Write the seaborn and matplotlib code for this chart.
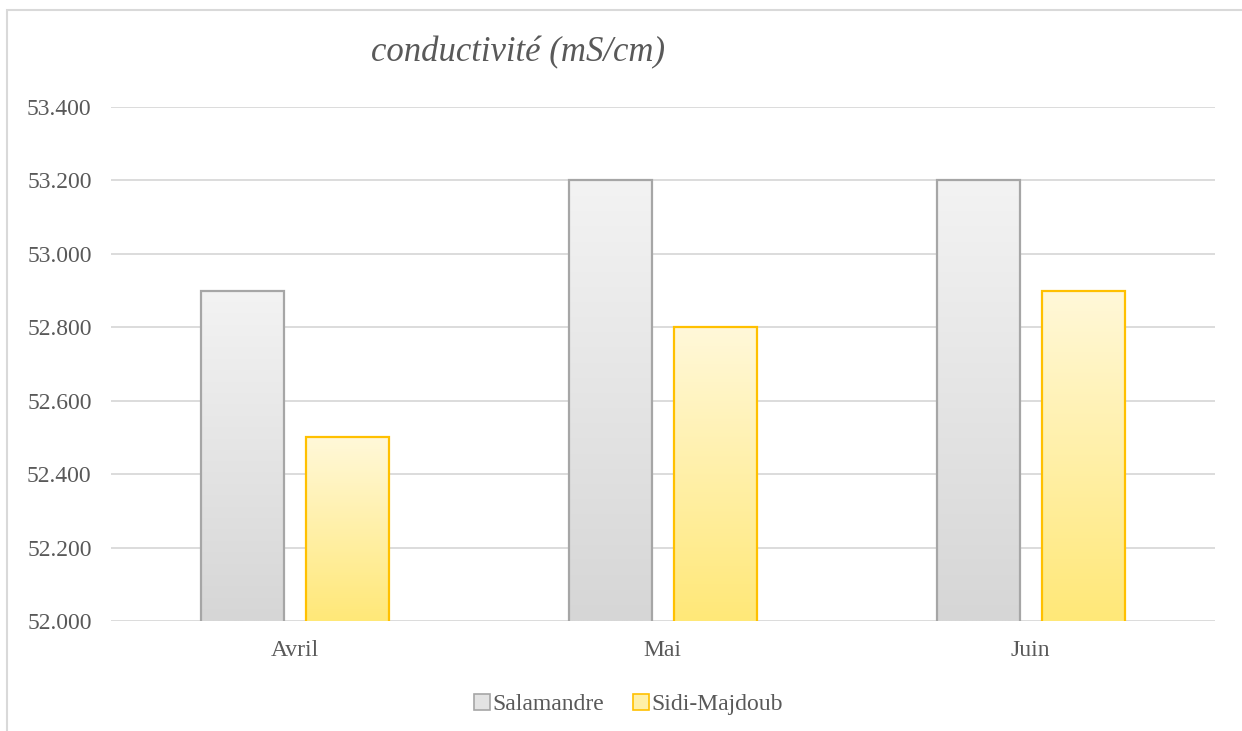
import numpy as np
import pandas as pd
import matplotlib.pyplot as plt
import seaborn as sns
from matplotlib.patches import Patch, Rectangle
from matplotlib.colors import LinearSegmentedColormap

months = ['Avril', 'Mai', 'Juin']
salamandre = [52.9, 53.2, 53.2]
sidi_majdoub = [52.5, 52.8, 52.9]
series = ['Salamandre', 'Sidi-Majdoub']

df = pd.DataFrame({
    'mois': months * 2,
    'station': [series[0]] * 3 + [series[1]] * 3,
    'valeur': salamandre + sidi_majdoub,
})

sns.set_style('white')
plt.rcParams['font.family'] = ['Liberation Serif', 'DejaVu Serif']
txt = '#595959'
ymin, ymax = 52.0, 53.4

fig = plt.figure(figsize=(12.42, 7.31), dpi=100)
ax = fig.add_axes([0.0894, 0.1505, 0.8886, 0.7031])

sns.barplot(data=df, x='mois', y='valeur', hue='station', order=months,
            hue_order=series, width=0.572, gap=0.21, ax=ax, legend=False,
            palette=['#e3e3e3', '#fff0a8'])

# gradient fills, top light -> bottom darker
grads = {
    0: (['#f3f3f3', '#d6d6d6'], '#a6a6a6'),
    1: (['#fff8d9', '#ffe878'], '#ffc000'),
}
for i, cont in enumerate(ax.containers):
    cols, edge = grads[i]
    cmap = LinearSegmentedColormap.from_list('g%d' % i, cols)
    for bar in cont:
        x0, w = bar.get_x(), bar.get_width()
        top = bar.get_y() + bar.get_height()
        bar.set_facecolor('none')
        bar.set_edgecolor(edge)
        bar.set_linewidth(1.6)
        bar.set_zorder(3)
        img = ax.imshow(np.linspace(0, 1, 256).reshape(-1, 1), cmap=cmap,
                        extent=[x0, x0 + w, ymin, top], origin='upper',
                        aspect='auto', zorder=2)
        img.set_clip_path(bar)
        img.set_clip_box(ax.bbox)

ax.set_ylim(ymin, ymax)
ax.set_xlim(-0.5, 2.5)
ticks = np.arange(ymin, ymax + 0.01, 0.2)
ax.set_yticks(ticks)
ax.set_yticklabels(['{:.3f}'.format(v) for v in ticks])
ax.yaxis.grid(True, color='#d9d9d9', linewidth=1.3)
ax.set_axisbelow(True)
for s in ax.spines.values():
    s.set_visible(False)
ax.tick_params(axis='both', length=0, labelsize=17, colors=txt)
ax.tick_params(axis='y', pad=14)
ax.tick_params(axis='x', pad=14)
ax.set_xlabel('')
ax.set_ylabel('')

fig.text(0.417, 0.928, 'conductivité (mS/cm)', fontsize=25, style='italic',
         color=txt, ha='center', va='center')

handles = [Patch(facecolor='#e3e3e3', edgecolor='#a6a6a6', linewidth=1.2),
           Patch(facecolor='#fff0a8', edgecolor='#ffc000', linewidth=1.2)]
fig.legend(handles, series, loc='center', bbox_to_anchor=(0.506, 0.036),
           ncol=2, frameon=False, fontsize=17, labelcolor=txt,
           handlelength=0.7, handleheight=0.7, handletextpad=0.1,
           columnspacing=1.2)

# chart area border (top and left visible)
fig.add_artist(Rectangle((7 / 1242, -0.2), 1.2, 1.2 - 10 / 731,
                         transform=fig.transFigure, fill=False,
                         edgecolor='#d9d9d9', linewidth=1.5))

fig.savefig('out.png', dpi=100)
